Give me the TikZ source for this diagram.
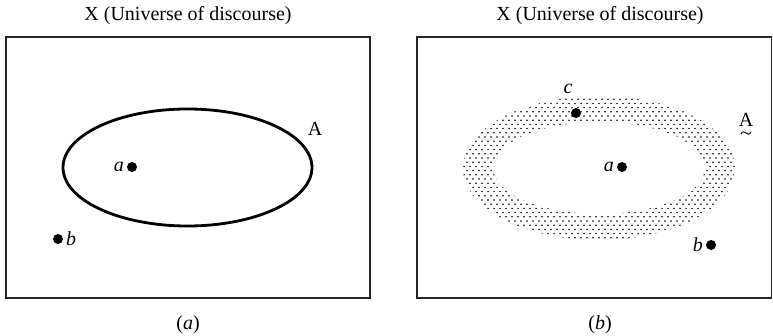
\documentclass[tikz,border=0pt]{standalone}
\usepackage{fontspec}
\setmainfont{Liberation Serif}
\begin{document}
\begin{tikzpicture}[x=1pt,y=-1pt,
  every node/.style={font=\fontsize{20}{24}\selectfont, inner sep=0pt},
  pt/.style={circle, fill=black, minimum size=10pt, inner sep=0pt},
  frame/.style={draw=black!85, line width=1.4pt},
  setline/.style={draw=black, line width=2.8pt},
  tildeline/.style={draw=black, line width=0.9pt, line cap=round},
  lbl/.style={font=\fontsize{20}{24}\selectfont\itshape}]
\useasboundingbox (0,0) rectangle (773,336);
% ---------- panel (a)
\node (ta) at (188,16) {X (Universe of discourse)};
\draw[frame] (6,37) rectangle (370,298);
\draw[setline] (187.5,167.5) ellipse [x radius=124.5, y radius=58.5];
\node (A1) at (315,129) {A};
\node[pt] (a1) at (132,167) {};
\node[lbl, anchor=east] (la1) at ([xshift=-8pt]a1.center) {a};
\node[pt] (b1) at (58,239) {};
\node[lbl, anchor=west] (lb1) at ([xshift=8pt]b1.center) {b};
\node (ca) at (188,325) {(\textit{a})};
% ---------- panel (b)
\node (tb) at (600,16) {X (Universe of discourse)};
\draw[frame] (417,37) rectangle (771.5,298);
\begin{scope}[even odd rule]
  \clip (599,168) ellipse [x radius=136, y radius=72]
        (599,168) ellipse [x radius=106, y radius=46];
  \foreach \j in {0,...,36}{
    \foreach \i in {0,...,47}{
      \fill[black] ({461+6*\i+3*mod(\j,2)},{95+4.2*\j}) circle (0.85);
    }
  }
\end{scope}
\node[anchor=base] (A2) at (746,127) {A};
\coordinate (t) at (746,133);
\draw[tildeline] ([shift={(-5,1)}]t) .. controls ([shift={(-3.5,-2)}]t) and ([shift={(-1.5,-1.5)}]t) .. (t)
  .. controls ([shift={(1.5,1.5)}]t) and ([shift={(3.5,2)}]t) .. ([shift={(5,-1)}]t);
\node[pt] (a2) at (622,167) {};
\node[lbl, anchor=east] (la2) at ([xshift=-8pt]a2.center) {a};
\node[pt] (c2) at (576,113) {};
\node[lbl] (lc2) at (568,89) {c};
\node[pt] (b2) at (711,245) {};
\node[lbl, anchor=east] (lb2) at ([xshift=-8pt]b2.center) {b};
\node (cb) at (600,325) {(\textit{b})};
\end{tikzpicture}
\end{document}
